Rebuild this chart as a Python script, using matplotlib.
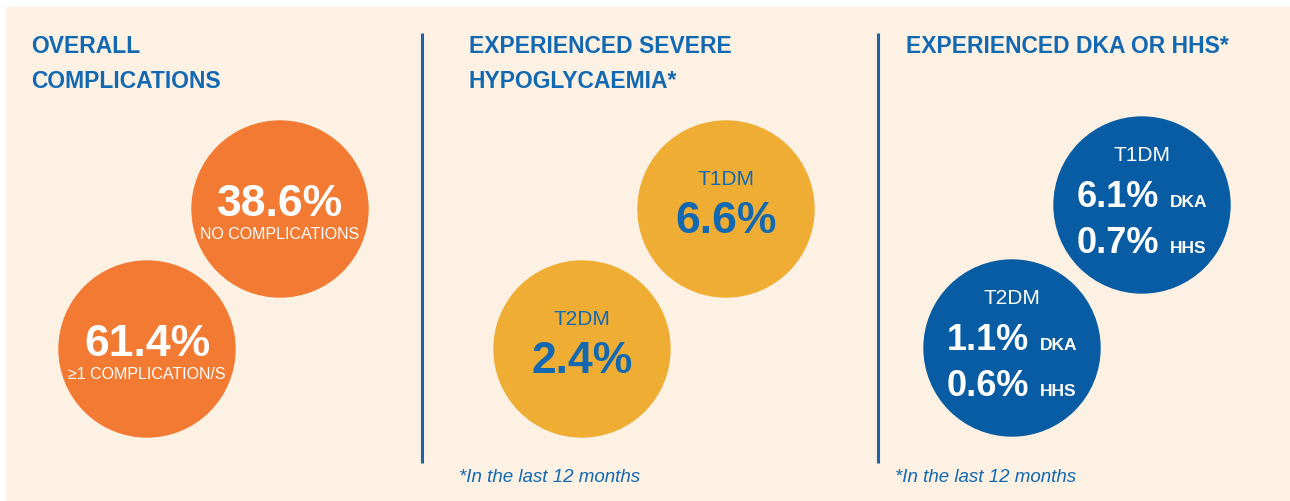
from matplotlib import pyplot as plt
from matplotlib import font_manager
from matplotlib.patches import Circle, Rectangle

# values
overall_labels = ['NO COMPLICATIONS', '\u22651 COMPLICATION/S']
overall_values = [38.6, 61.4]

groups = ['T1DM', 'T2DM']
hypo_values = [6.6, 2.4]
dka_values = [6.1, 1.1]
hhs_values = [0.7, 0.6]

titles = ['OVERALL\nCOMPLICATIONS', 'EXPERIENCED SEVERE\nHYPOGLYCAEMIA*', 'EXPERIENCED DKA OR HHS*']
footnote = '*In the last 12 months'

BG = '#fdf1e4'
ORANGE = '#f37a32'
YELLOW = '#f0ad33'
DARK_BLUE = '#075ca3'
TEXT_BLUE = '#1268b1'
LINE_BLUE = '#1f62a8'

names = {f.name for f in font_manager.fontManager.ttflist}
NARROW = 'Liberation Sans Narrow' in names
TITLE_FONT = ['Liberation Sans Narrow' if NARROW else 'Liberation Sans', 'DejaVu Sans']
TITLE_SIZE = 20 if NARROW else 16.5
FONT = ['Liberation Sans', 'DejaVu Sans']
R = 88

fig = plt.figure(figsize=(12.9, 5.01), dpi=100)
fig.patch.set_facecolor('white')
ax = fig.add_axes([0, 0, 1, 1])
ax.set_xlim(0, 1290)
ax.set_ylim(501, 0)
ax.axis('off')

ax.add_patch(Rectangle((6, 7), 1284, 494, color=BG, zorder=0))

# dividers
for x in [422, 878]:
    ax.plot([x, x], [33, 463], color=LINE_BLUE, lw=2.2, solid_capstyle='butt')

# titles
for x, t in zip([31, 469, 906], titles):
    for i, line in enumerate(t.split('\n')):
        ax.text(x, 53 + i * 35, line, ha='left', va='baseline', color=TEXT_BLUE,
                fontsize=TITLE_SIZE, fontweight='bold', family=TITLE_FONT)

# footnotes
for x in [459, 895]:
    ax.text(x, 482, footnote, ha='left', va='baseline', color=TEXT_BLUE,
            fontsize=13.5, style='italic', family=FONT)

# panel 1: overall complications
centres = [(280, 209), (147, 349)]
for (cx, cy), val, lab in zip(centres, overall_values, overall_labels):
    ax.add_patch(Circle((cx, cy), R, color=ORANGE, zorder=1))
    ax.text(cx, cy + 7, '{:.1f}%'.format(val), ha='center', va='baseline', color='white',
            fontsize=32, fontweight='bold', family=FONT, zorder=2)
    ax.text(cx, cy + 30, lab, ha='center', va='baseline', color='white',
            fontsize=11.5, family=FONT, zorder=2)

# panel 2: severe hypoglycaemia
centres = [(726, 209), (582, 349)]
for (cx, cy), val, grp in zip(centres, hypo_values, groups):
    ax.add_patch(Circle((cx, cy), R, color=YELLOW, zorder=1))
    ax.text(cx, cy - 24, grp, ha='center', va='baseline', color=TEXT_BLUE,
            fontsize=15, family=FONT, zorder=2)
    ax.text(cx, cy + 24, '{:.1f}%'.format(val), ha='center', va='baseline', color=TEXT_BLUE,
            fontsize=32, fontweight='bold', family=FONT, zorder=2)

# panel 3: DKA or HHS
centres = [(1142, 205), (1012, 348)]
for (cx, cy), dka, hhs, grp in zip(centres, dka_values, hhs_values, groups):
    ax.add_patch(Circle((cx, cy), R, color=DARK_BLUE, zorder=1))
    ax.text(cx, cy - 44, grp, ha='center', va='baseline', color='white',
            fontsize=15, family=FONT, zorder=2)
    for dy, val, lab in [(2, dka, 'DKA'), (48, hhs, 'HHS')]:
        ax.text(cx - 65, cy + dy, '{:.1f}%'.format(val), ha='left', va='baseline', color='white',
                fontsize=26, fontweight='bold', family=FONT, zorder=2)
        ax.text(cx + 28, cy + dy, lab, ha='left', va='baseline', color='white',
                fontsize=12.5, fontweight='bold', family=FONT, zorder=2)

fig.savefig('out.png', dpi=100, facecolor=fig.get_facecolor())
